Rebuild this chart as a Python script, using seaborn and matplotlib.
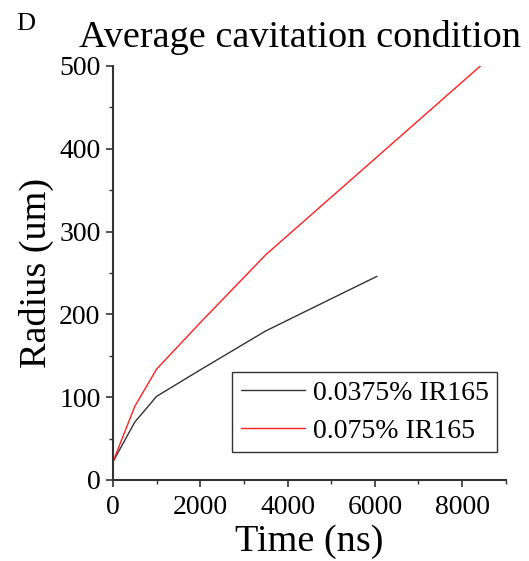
import numpy as np
import pandas as pd
import matplotlib
matplotlib.use("Agg")
import matplotlib.pyplot as plt
from matplotlib.ticker import MultipleLocator
import seaborn as sns

# Data
time_low = [0, 500, 1000, 2000, 3500, 6050]
radius_low = [22, 70, 101, 133, 180, 246]
time_high = [0, 500, 1000, 2000, 3500, 8420]
radius_high = [22, 89, 134, 190, 272, 500]
labels = ["0.0375% IR165", "0.075% IR165"]
colors = ["#333333", "#ff2020"]

df = pd.concat([
    pd.DataFrame({"Time": time_low, "Radius": radius_low, "Series": labels[0]}),
    pd.DataFrame({"Time": time_high, "Radius": radius_high, "Series": labels[1]}),
])

sns.set_style("ticks")
plt.rcParams["font.family"] = ["Liberation Serif", "DejaVu Serif"]
plt.rcParams["text.color"] = "black"
plt.rcParams["axes.labelcolor"] = "black"

fig = plt.figure(figsize=(5.29, 5.61), dpi=100)
ax = fig.add_axes([0.2136, 0.1444, 0.956 - 0.2136, 0.8824 - 0.1444])

sns.lineplot(data=df, x="Time", y="Radius", hue="Series", palette=colors,
             linewidth=1.0, ax=ax, sort=False, estimator=None)

ax.set_xlim(0, 9000)
ax.set_ylim(0, 500)
ax.xaxis.set_major_locator(MultipleLocator(2000))
ax.xaxis.set_minor_locator(MultipleLocator(1000))
ax.yaxis.set_major_locator(MultipleLocator(100))
ax.yaxis.set_minor_locator(MultipleLocator(50))

for s in ["top", "right"]:
    ax.spines[s].set_visible(False)
for s in ["left", "bottom"]:
    ax.spines[s].set_color("#333333")
    ax.spines[s].set_linewidth(1.5)

ax.tick_params(which="major", direction="out", length=5, width=1.2,
               color="#333333", labelcolor="black", labelsize=20, pad=4)
ax.tick_params(axis="x", which="major", pad=6)
ax.tick_params(which="minor", direction="out", length=3, width=1.0,
               color="#333333")

ax.set_xlabel("Time (ns)", fontsize=27.5, labelpad=3, color="black")
ax.set_ylabel("Radius (um)", fontsize=27.5, labelpad=4, color="black")
ax.set_title("Average cavitation condition", fontsize=27.5, pad=14, x=0.477,
             color="black")
fig.text(0.03, 0.957, "D", fontsize=19, va="center", ha="left", color="black")

leg = ax.legend(loc="lower right", bbox_to_anchor=(0.978, 0.068), fontsize=20,
                frameon=True, fancybox=False, edgecolor="black",
                handlelength=2.3, handletextpad=0.3, borderpad=0.3,
                labelspacing=0.45, borderaxespad=0)
leg.get_frame().set_linewidth(1.0)
for t in leg.get_texts():
    t.set_color("black")

fig.savefig("out.png", dpi=100)
